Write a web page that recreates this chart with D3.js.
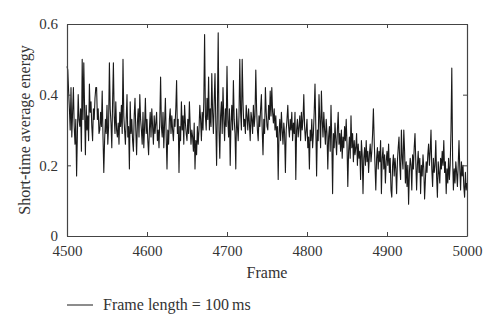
<!DOCTYPE html>
<html>
<head>
<meta charset="utf-8">
<script src="https://cdn.jsdelivr.net/npm/d3@7"></script>
<style>
  html, body { margin: 0; padding: 0; background: #fff; }
  svg text { font-family: "Liberation Serif", "DejaVu Serif", serif; fill: #333; }
</style>
</head>
<body>
<svg id="chart" width="500" height="331"></svg>
<script>
// Short-time average energy per frame (frames 4500 to 5000), 100 ms frames
const frameStart = 4500;
const energy = [
  0.48, 0.47, 0.41, 0.36, 0.30, 0.42, 0.28, 0.35, 0.42, 0.31,
  0.26, 0.33, 0.17, 0.29, 0.40, 0.33, 0.31, 0.36, 0.24, 0.50,
  0.33, 0.49, 0.36, 0.23, 0.37, 0.30, 0.34, 0.27, 0.43, 0.35,
  0.38, 0.31, 0.27, 0.36, 0.33, 0.39, 0.42, 0.42, 0.33, 0.36,
  0.29, 0.30, 0.35, 0.31, 0.41, 0.28, 0.18, 0.27, 0.33, 0.29,
  0.37, 0.26, 0.31, 0.49, 0.36, 0.32, 0.25, 0.38, 0.49, 0.34,
  0.29, 0.38, 0.30, 0.28, 0.32, 0.26, 0.35, 0.31, 0.37, 0.29,
  0.50, 0.34, 0.30, 0.26, 0.33, 0.40, 0.28, 0.31, 0.19, 0.38,
  0.29, 0.33, 0.27, 0.24, 0.34, 0.39, 0.30, 0.23, 0.32, 0.36,
  0.28, 0.40, 0.33, 0.30, 0.26, 0.35, 0.25, 0.31, 0.39, 0.29,
  0.33, 0.27, 0.23, 0.30, 0.35, 0.28, 0.36, 0.31, 0.26, 0.34,
  0.29, 0.32, 0.35, 0.27, 0.30, 0.25, 0.33, 0.45, 0.31, 0.28,
  0.35, 0.25, 0.32, 0.39, 0.28, 0.19, 0.30, 0.26, 0.33, 0.36,
  0.29, 0.34, 0.30, 0.27, 0.33, 0.31, 0.36, 0.44, 0.29, 0.33,
  0.18, 0.31, 0.27, 0.38, 0.30, 0.34, 0.26, 0.37, 0.32, 0.29,
  0.27, 0.33, 0.29, 0.38, 0.31, 0.26, 0.30, 0.28, 0.24, 0.32,
  0.19, 0.27, 0.23, 0.31, 0.26, 0.30, 0.37, 0.33, 0.27, 0.35,
  0.30, 0.38, 0.57, 0.34, 0.30, 0.39, 0.33, 0.45, 0.30, 0.36,
  0.31, 0.46, 0.35, 0.29, 0.38, 0.46, 0.32, 0.20, 0.36, 0.575,
  0.30, 0.22, 0.34, 0.38, 0.29, 0.42, 0.33, 0.27, 0.36, 0.31,
  0.48, 0.33, 0.28, 0.36, 0.20, 0.32, 0.37, 0.30, 0.44, 0.33,
  0.29, 0.19, 0.36, 0.31, 0.27, 0.34, 0.50, 0.35, 0.30, 0.50,
  0.38, 0.31, 0.33, 0.29, 0.37, 0.34, 0.30, 0.36, 0.32, 0.27,
  0.35, 0.33, 0.29, 0.37, 0.31, 0.34, 0.47, 0.36, 0.30, 0.27,
  0.34, 0.31, 0.36, 0.40, 0.30, 0.23, 0.33, 0.29, 0.42, 0.35,
  0.31, 0.30, 0.37, 0.33, 0.41, 0.34, 0.42, 0.35, 0.32, 0.36,
  0.30, 0.34, 0.28, 0.31, 0.16, 0.29, 0.33, 0.27, 0.35, 0.30,
  0.26, 0.32, 0.29, 0.18, 0.30, 0.33, 0.37, 0.31, 0.28, 0.33,
  0.30, 0.35, 0.27, 0.32, 0.29, 0.35, 0.16, 0.30, 0.33, 0.28,
  0.31, 0.34, 0.27, 0.35, 0.30, 0.33, 0.40, 0.31, 0.27, 0.30,
  0.33, 0.25, 0.28, 0.19, 0.30, 0.27, 0.33, 0.25, 0.29, 0.35,
  0.43, 0.31, 0.17, 0.30, 0.27, 0.40, 0.33, 0.25, 0.41, 0.33,
  0.28, 0.35, 0.30, 0.26, 0.33, 0.29, 0.19, 0.28, 0.31, 0.24,
  0.37, 0.27, 0.12, 0.29, 0.25, 0.32, 0.27, 0.23, 0.30, 0.35,
  0.26, 0.29, 0.24, 0.30, 0.22, 0.28, 0.25, 0.31, 0.27, 0.33,
  0.26, 0.14, 0.24, 0.28, 0.22, 0.34, 0.25, 0.29, 0.21, 0.27,
  0.23, 0.25, 0.29, 0.20, 0.26, 0.22, 0.24, 0.16, 0.27, 0.23,
  0.12, 0.22, 0.25, 0.20, 0.27, 0.21, 0.24, 0.18, 0.23, 0.26,
  0.21, 0.24, 0.29, 0.36, 0.27, 0.20, 0.13, 0.22, 0.25, 0.19,
  0.24, 0.21, 0.27, 0.12, 0.22, 0.25, 0.19, 0.23, 0.15, 0.21,
  0.24, 0.20, 0.26, 0.18, 0.22, 0.13, 0.11, 0.20, 0.23, 0.17,
  0.22, 0.19, 0.12, 0.21, 0.25, 0.28, 0.20, 0.16, 0.30, 0.22,
  0.19, 0.30, 0.24, 0.15, 0.21, 0.14, 0.20, 0.09, 0.18, 0.22,
  0.20, 0.13, 0.23, 0.19, 0.25, 0.29, 0.21, 0.13, 0.20, 0.24,
  0.18, 0.22, 0.12, 0.20, 0.17, 0.23, 0.19, 0.105, 0.16, 0.21,
  0.18, 0.23, 0.26, 0.20, 0.24, 0.30, 0.19, 0.14, 0.22, 0.18,
  0.20, 0.27, 0.17, 0.11, 0.21, 0.18, 0.15, 0.22, 0.19, 0.24,
  0.20, 0.27, 0.18, 0.21, 0.12, 0.19, 0.15, 0.22, 0.16, 0.20,
  0.30, 0.475, 0.22, 0.13, 0.19, 0.15, 0.21, 0.18, 0.14, 0.20,
  0.27, 0.19, 0.13, 0.21, 0.17, 0.20, 0.14, 0.11, 0.18, 0.13,
  0.15
];
const xTicks = [4500, 4600, 4700, 4800, 4900, 5000];
const yTicks = [0, 0.2, 0.4, 0.6];
const xTitle = "Frame";
const yTitle = "Short-time average energy";
const legendLabel = "Frame length = 100\u2009ms";

const svg = d3.select("#chart");
const margin = { left: 67, right: 33, top: 24, bottom: 95 };
const W = 500, H = 331;
const x0 = margin.left, x1 = W - margin.right;
const y0 = H - margin.bottom, y1 = margin.top;

const x = d3.scaleLinear().domain([4500, 5000]).range([x0, x1]);
const y = d3.scaleLinear().domain([0, 0.6]).range([y0, y1]);

const frameColor = "#444";
const serif = "'Liberation Serif', 'DejaVu Serif', serif";

// Series line
const data = energy.map((v, i) => ({ f: frameStart + i, v }));
svg.append("path")
  .datum(data)
  .attr("fill", "none")
  .attr("stroke", "#1a1a1a")
  .attr("stroke-width", 1.1)
  .attr("stroke-linejoin", "round")
  .attr("d", d3.line().x(d => x(d.f)).y(d => y(d.v)));

// Axes with inward ticks (bottom/left labelled, top/right mirrored)
const tickLen = 4;
const axB = svg.append("g").attr("transform", `translate(0,${y0})`)
  .call(d3.axisBottom(x).tickValues(xTicks).tickSizeInner(-tickLen).tickSizeOuter(0).tickPadding(9).tickFormat(d3.format("d")));
const axT = svg.append("g").attr("transform", `translate(0,${y1})`)
  .call(d3.axisTop(x).tickValues(xTicks).tickSizeInner(-tickLen).tickSizeOuter(0).tickFormat(""));
const axL = svg.append("g").attr("transform", `translate(${x0},0)`)
  .call(d3.axisLeft(y).tickValues(yTicks).tickSizeInner(-tickLen).tickSizeOuter(0).tickPadding(9).tickFormat(d => d === 0 ? "0" : d3.format(".1f")(d)));
const axR = svg.append("g").attr("transform", `translate(${x1},0)`)
  .call(d3.axisRight(y).tickValues(yTicks).tickSizeInner(-tickLen).tickSizeOuter(0).tickFormat(""));

[axB, axT, axL, axR].forEach(g => {
  g.attr("font-family", serif).attr("font-size", 15);
  g.select(".domain").attr("stroke", frameColor).attr("stroke-width", 1.2);
  g.selectAll(".tick line").attr("stroke", frameColor).attr("stroke-width", 1);
  g.selectAll(".tick text").style("font-family", serif).style("font-size", "15px").attr("fill", "#333");
});

// Axis titles
svg.append("text")
  .attr("x", (x0 + x1) / 2)
  .attr("y", 278)
  .attr("text-anchor", "middle")
  .style("font-size", "16px")
  .text(xTitle);

svg.append("text")
  .attr("transform", `translate(30,${(y0 + y1) / 2}) rotate(-90)`)
  .attr("text-anchor", "middle")
  .style("font-size", "16px")
  .text(yTitle);

// Legend
svg.append("line")
  .attr("x1", 67).attr("x2", 93)
  .attr("y1", 305).attr("y2", 305)
  .attr("stroke", "#1a1a1a").attr("stroke-width", 1);
svg.append("text")
  .attr("x", 103)
  .attr("y", 310)
  .style("font-size", "16px")
  .text(legendLabel);
</script>
</body>
</html>
